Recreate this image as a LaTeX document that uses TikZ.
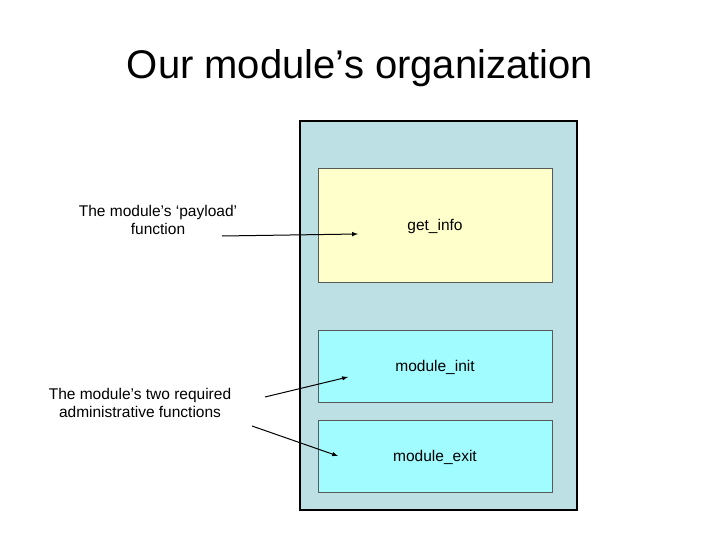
\documentclass[tikz,border=0pt]{standalone}
\usepackage{fontspec}
\setmainfont{Liberation Sans}
\definecolor{outerbg}{HTML}{BCE0E4}
\definecolor{yel}{HTML}{FFFFCC}
\definecolor{cyn}{HTML}{A0FCFF}
\begin{document}
\begin{tikzpicture}[x=1pt,y=-1pt,
  box/.style={draw=gray!70!black,line width=0.6pt},
  lab/.style={font=\fontsize{15.5}{18}\selectfont,align=center},
  arr/.style={-latex,line width=1pt}]
\useasboundingbox (0,0) rectangle (720,540);
\node[font=\fontsize{40}{46}\selectfont] (title) at (360,68) {Our module’s organization};
\draw[fill=outerbg,line width=2pt] (300,121) rectangle (577,510);
\node[box,fill=yel,minimum width=234pt,minimum height=114pt] (gi) at (435,225) {};
\node[lab] at (435,226) {get\_info};
\node[box,fill=cyn,minimum width=234pt,minimum height=72pt] (mi) at (435,366) {};
\node[lab] at (435,367) {module\_init};
\node[box,fill=cyn,minimum width=234pt,minimum height=72pt] (me) at (435,456) {};
\node[lab] at (435,457) {module\_exit};
\node[lab] (pl) at (158,220) {The module’s ‘payload’\\function};
\node[lab] (ad) at (140,403) {The module’s two required\\administrative functions};
\coordinate (p1) at (222,236); \coordinate (p2) at (358,234);
\coordinate (a1) at (265,397); \coordinate (a2) at (348,377);
\coordinate (b1) at (252,426); \coordinate (b2) at (338,456);
\draw[arr] (p1) -- (p2);
\draw[arr] (a1) -- (a2);
\draw[arr] (b1) -- (b2);
\end{tikzpicture}
\end{document}
